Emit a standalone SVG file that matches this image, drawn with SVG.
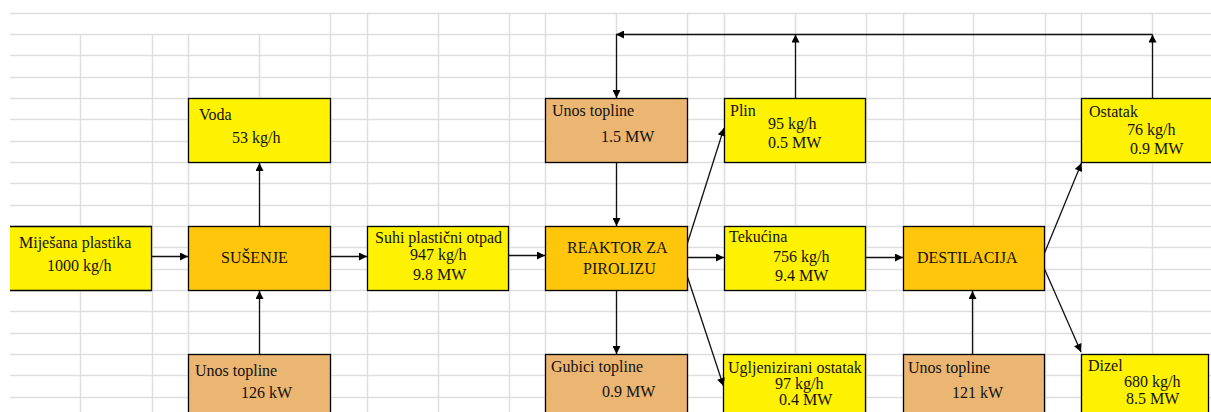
<svg xmlns="http://www.w3.org/2000/svg" width="1211" height="412" viewBox="0 0 1211 412">
<defs>
<marker id="ah" viewBox="0 0 10 10" refX="10" refY="5" markerWidth="9" markerHeight="8" markerUnits="userSpaceOnUse" orient="auto"><path d="M0,0 L10,5 L0,10 z" fill="#000"/></marker>
<style>
.g{stroke:#dedede;stroke-width:1.5;fill:none}
.y{fill:#fff200;stroke:#000;stroke-width:1.3}
.o{fill:#ffc60b;stroke:#000;stroke-width:1.3}
.t{fill:#ebb572;stroke:#000;stroke-width:1.3}
text{font-family:"Liberation Serif","Times New Roman",serif;font-size:16px;fill:#111}
.c line,.c path{stroke:#111;stroke-width:1.3;fill:none;marker-end:url(#ah)}
</style>
</defs>
<rect width="1211" height="412" fill="#fff"/>
<g id="grid">
<path class="g" d="M10,13.5H1211M10,34.5H1211M10,55.5H1211M10,77.5H1211M10,98.5H1211M10,119.5H1211M10,141.5H1211M10,162.5H1211M10,183.5H1211M10,205.5H1211M10,226.5H1211M10,247.5H1211M10,269.5H1211M10,290.5H1211M10,311.5H1211M10,333.5H1211M10,354.5H1211M10,375.5H1211M10,397.5H1211"/>
<path class="g" d="M80.5,34V412M152.5,34V412M188.5,34V412M259.5,34V412M330.5,13V412M367.5,13V412M438.5,13V412M509.5,13V412M545.5,13V412M616.5,13V412M687.5,13V412M724.5,13V412M795.5,13V412M866.5,13V412M903.5,13V412M973.5,13V412M1045.5,13V412M1081.5,13V412M1152.5,13V412"/>
</g>
<g id="n-mijesana">
<rect x="10" y="226.5" width="141" height="64" fill="#fff200"/>
<path d="M10,226.5H151.5V290.5H10" fill="none" stroke="#000" stroke-width="1.3"/>
<text x="19" y="248">Miješana plastika</text>
<text x="47" y="271">1000 kg/h</text>
</g>
<g id="n-susenje">
<rect class="o" x="188.5" y="226.5" width="142" height="64"/>
<text x="221" y="263">SUŠENJE</text>
</g>
<g id="n-voda">
<rect class="y" x="188.5" y="98.5" width="142" height="64"/>
<text x="199" y="120">Voda</text>
<text x="232" y="143">53 kg/h</text>
</g>
<g id="n-unos1">
<rect class="t" x="188.5" y="354.5" width="142" height="70"/>
<text x="195" y="376">Unos topline</text>
<text x="241" y="398">126 kW</text>
</g>
<g id="n-suhi">
<rect class="y" x="367.5" y="226.5" width="141" height="64"/>
<text x="375" y="243">Suhi plastični otpad</text>
<text x="410" y="260">947 kg/h</text>
<text x="413" y="280">9.8 MW</text>
</g>
<g id="n-reaktor">
<rect class="o" x="545.5" y="226.5" width="142" height="64"/>
<text x="567" y="253">REAKTOR ZA</text>
<text x="583" y="274">PIROLIZU</text>
</g>
<g id="n-unos2">
<rect class="t" x="545.5" y="98.5" width="142" height="64"/>
<text x="552" y="116">Unos topline</text>
<text x="601" y="142">1.5 MW</text>
</g>
<g id="n-gubici">
<rect class="t" x="545.5" y="354.5" width="142" height="70"/>
<text x="551" y="372">Gubici topline</text>
<text x="602" y="397">0.9 MW</text>
</g>
<g id="n-plin">
<rect class="y" x="724.5" y="98.5" width="141" height="64"/>
<text x="730" y="116">Plin</text>
<text x="768" y="129">95 kg/h</text>
<text x="768" y="148">0.5 MW</text>
</g>
<g id="n-tekucina">
<rect class="y" x="724.5" y="226.5" width="141" height="64"/>
<text x="729" y="242">Tekućina</text>
<text x="773" y="262">756 kg/h</text>
<text x="775" y="281">9.4 MW</text>
</g>
<g id="n-ugljen">
<rect class="y" x="723.5" y="354.5" width="142" height="70"/>
<text x="728" y="373">Ugljenizirani ostatak</text>
<text x="775" y="389">97 kg/h</text>
<text x="779" y="405">0.4 MW</text>
</g>
<g id="n-destilacija">
<rect class="o" x="903.5" y="226.5" width="141" height="64"/>
<text x="917" y="263">DESTILACIJA</text>
</g>
<g id="n-unos3">
<rect class="t" x="903.5" y="354.5" width="141" height="70"/>
<text x="908" y="373">Unos topline</text>
<text x="952" y="398">121 kW</text>
</g>
<g id="n-ostatak">
<rect class="y" x="1081.5" y="98.5" width="135" height="64"/>
<text x="1089" y="117">Ostatak</text>
<text x="1127" y="135">76 kg/h</text>
<text x="1130" y="154">0.9 MW</text>
</g>
<g id="n-dizel">
<rect class="y" x="1081.5" y="354.5" width="127" height="70"/>
<text x="1088" y="371">Dizel</text>
<text x="1124" y="387">680 kg/h</text>
<text x="1126" y="404">8.5 MW</text>
</g>
<g id="connectors" class="c">
<line x1="151" y1="256.5" x2="188" y2="256.5"/>
<line x1="330.5" y1="256.5" x2="367" y2="256.5"/>
<line x1="259.5" y1="226" x2="259.5" y2="163"/>
<line x1="259.5" y1="354" x2="259.5" y2="291"/>
<line x1="508.5" y1="255.5" x2="545" y2="255.5"/>
<line x1="616.5" y1="162.5" x2="616.5" y2="226"/>
<line x1="616.5" y1="290.5" x2="616.5" y2="354"/>
<line x1="687.5" y1="257.5" x2="724" y2="257.5"/>
<line x1="687.5" y1="243" x2="724" y2="128"/>
<line x1="687.5" y1="277" x2="723.5" y2="386"/>
<line x1="865.5" y1="257.5" x2="903" y2="257.5"/>
<line x1="972.5" y1="354" x2="972.5" y2="291"/>
<line x1="1044.5" y1="253" x2="1081.5" y2="163"/>
<line x1="1044.5" y1="269" x2="1081" y2="352"/>
<line x1="795.5" y1="98" x2="795.5" y2="34.5"/>
<line x1="1152.5" y1="98" x2="1152.5" y2="34.5"/>
<line x1="1152.5" y1="34.5" x2="616" y2="34.5"/>
<line x1="616.5" y1="34.5" x2="616.5" y2="98"/>
</g>
</svg>
